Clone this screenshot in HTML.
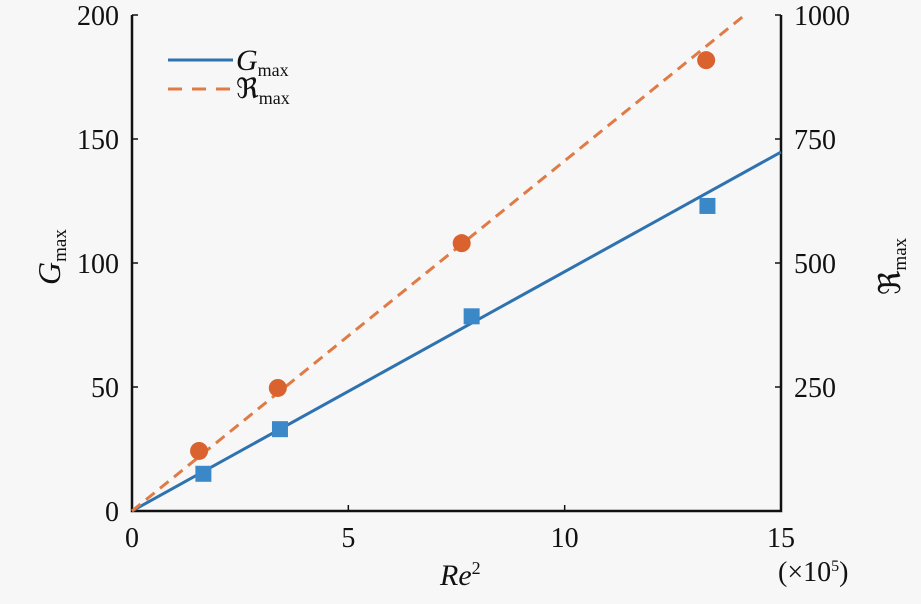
<!DOCTYPE html>
<html><head><meta charset="utf-8"><style>
html,body{margin:0;padding:0;background:#f7f7f7;}
svg text{font-family:"Liberation Serif",serif;fill:#111;}
</style></head><body>
<svg id="chart" width="921" height="599" xmlns="http://www.w3.org/2000/svg">
<rect width="921" height="599" fill="#f7f7f7"/>
<g id="plot"></g>
</svg>
<script>
const xTicks=[0,5,10,15];
const yTicksL=[0,50,100,150,200];
const yTicksR=[250,500,750,1000];
const gX=[1.65,3.42,7.85,13.3];
const gY=[15,33,78.5,123];
const rX=[1.55,3.37,7.62,13.27];
const rY=[121,248,540,909];
const fitX=[0,15];
const gSlope=[9.65];
const rSlope=[70.6];
const X0=132,X1=781,Y0=511,Y1=15;
const sx=v=>X0+(v-0)/(15-0)*(X1-X0);
const sy=v=>Y0-(v/200)*(Y0-Y1);
const syR=v=>Y0-(v/1000)*(Y0-Y1);
const NS="http://www.w3.org/2000/svg";
const g=document.getElementById('plot');
function mk(tag,attrs,txt){const e=document.createElementNS(NS,tag);for(const k in attrs)e.setAttribute(k,attrs[k]);if(txt!==undefined)e.textContent=txt;g.appendChild(e);return e;}
let a=mk('path',{d:`M${X0},${Y1}V${Y0}H${X1}V${Y1}`,fill:'none',stroke:'#111','stroke-width':2.5});


xTicks.forEach(t=>{
 let l=mk('line',{x1:sx(t),x2:sx(t),y1:Y0,y2:Y0-6,stroke:'#111','stroke-width':1.5});
 
 
 let tx=mk('text',{x:sx(t),y:547,'text-anchor':'middle','font-size':28},String(t));
 
 
});
yTicksL.forEach(t=>{
 let l=mk('line',{x1:X0,x2:X0+6,y1:sy(t),y2:sy(t),stroke:'#111','stroke-width':1.5});
 
 
 let tx=mk('text',{x:119,y:sy(t)+10,'text-anchor':'end','font-size':28},String(t));
 
 
});
yTicksR.forEach(t=>{
 let l=mk('line',{x1:X1,x2:X1-6,y1:syR(t),y2:syR(t),stroke:'#111','stroke-width':1.5});
 
 
 let tx=mk('text',{x:794,y:syR(t)+10,'text-anchor':'start','font-size':28},String(t));
 
 
});
let gl=mk('line',{x1:sx(fitX[0]),y1:sy(gSlope[0]*fitX[0]),x2:sx(fitX[1]),y2:sy(gSlope[0]*fitX[1]),stroke:'#2f72b0','stroke-width':3});


const rEnd=Math.min(fitX[1],1000/rSlope[0]);
let rl=mk('line',{x1:sx(0),y1:syR(0),x2:sx(rEnd),y2:syR(rSlope[0]*rEnd),stroke:'#e07b45','stroke-width':3,'stroke-dasharray':'11 7'});


gX.forEach((x,i)=>{
 let r=mk('rect',{x:sx(x)-8,y:sy(gY[i])-8,width:16,height:16,fill:'#3b88c9'});
 
 
});
rX.forEach((x,i)=>{
 let c=mk('circle',{cx:sx(x),cy:syR(rY[i]),r:9,fill:'#d9622e'});
 
 
});
</script>
<svg style="position:absolute;left:0;top:0" width="921" height="599" xmlns="http://www.w3.org/2000/svg">
<g>
<line x1="168" y1="60" x2="233" y2="60" stroke="#2f72b0" stroke-width="3"/>
<text x="236" y="70" font-size="30" font-style="italic" font-family="Liberation Serif,serif">G<tspan font-size="18" font-style="normal" dy="6">max</tspan></text>
<line x1="168" y1="89" x2="233" y2="89" stroke="#e07b45" stroke-width="3" stroke-dasharray="14 10"/>
<text x="236" y="98" font-size="28" font-family="DejaVu Serif,serif">ℜ<tspan font-size="18" font-family="Liberation Serif,serif" dy="6">max</tspan></text>
</g>
<text x="440" y="585" font-size="30" font-style="italic" font-family="Liberation Serif,serif">Re<tspan font-size="18" font-style="normal" dy="-11">2</tspan></text>
<text x="778" y="581" font-size="28" font-family="Liberation Serif,serif">(×10<tspan font-size="16" dy="-10">5</tspan><tspan dy="10">)</tspan></text>
<text transform="translate(60,285) rotate(-90)" font-size="32" font-style="italic" font-family="Liberation Serif,serif">G<tspan font-size="19" font-style="normal" dy="6">max</tspan></text>
<text transform="translate(900,295) rotate(-90)" font-size="30" font-family="DejaVu Serif,serif">ℜ<tspan font-size="19" font-family="Liberation Serif,serif" dy="6">max</tspan></text>
</svg>
</body></html>
